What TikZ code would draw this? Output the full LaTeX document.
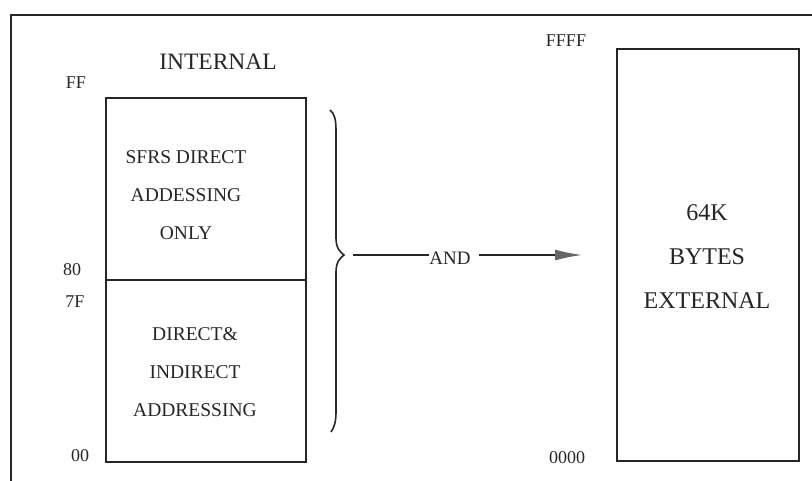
\documentclass[tikz,border=0pt]{standalone}
\usepackage{fontspec}
\setmainfont{Liberation Serif}
\usetikzlibrary{arrows.meta}
\begin{document}
\begin{tikzpicture}[x=1pt,y=-1pt,
  box/.style={draw=black!85,line width=1.5pt,minimum width=200pt,minimum height=182pt,inner sep=0pt},
  lbl/.style={font=\fontsize{18}{20}\selectfont,inner sep=0pt,text=black!85},
  inner/.style={font=\fontsize{19.5}{38}\selectfont,align=center,inner sep=0pt,text=black!85},
  big/.style={font=\fontsize{24}{44}\selectfont,align=center,inner sep=0pt,text=black!85},
  wire/.style={draw=black!85,line width=1.5pt}]
\useasboundingbox (0,0) rectangle (812,480);
\fill[white] (0,0) rectangle (812,480);
% outer frame (cropped)
\draw[black!85,line width=1.4pt] (11,490) -- (11,15) -- (820,15);
% left boxes
\node[box] (up) at (206,189) {};
\node[box] (lo) at (206,371) {};
\node[inner] (upt) at (186,195) {SFRS DIRECT\\ADDESSING\\ONLY};
\node[inner] (lot) at (195,372) {DIRECT\&\\INDIRECT\\ADDRESSING};
% right box
\node[box,minimum width=182pt,minimum height=412pt] (ext) at (708,255) {};
\node[big] (extt) at (707,257) {64K\\BYTES\\EXTERNAL};
% labels
\node[font=\fontsize{23.5}{26}\selectfont,inner sep=0pt,text=black!85] (int) at (218,62) {INTERNAL};
\node[lbl] (ff) at (76,83) {FF};
\node[lbl] (e80) at (72,270) {80};
\node[lbl] (e7f) at (75,302) {7F};
\node[lbl] (e00) at (80,456) {00};
\node[lbl] (ffff) at (566,41) {FFFF};
\node[lbl] (z0) at (567,458) {0000};
% brace
\draw[black!85,line width=1.6pt]
  (330,110) .. controls (335,114) and (336,120) .. (336,132)
  -- (336,238) .. controls (336,248) and (340,252) .. (344,255)
  .. controls (340,258) and (336,262) .. (336,272)
  -- (336,412) .. controls (336,422) and (334,428) .. (331,432);
\coordinate (btip) at (353,255);
\coordinate (aend) at (582,255);
\node[lbl,font=\fontsize{19}{20}\selectfont] (and) at (450,258) {AND};
\draw[wire] (btip) -- (btip -| and.west);
\draw[wire,-{Latex[length=27pt,width=11pt,fill=black!60,color=black!60]}] ([xshift=8pt]aend -| and.east) -- (aend);
\end{tikzpicture}
\end{document}
